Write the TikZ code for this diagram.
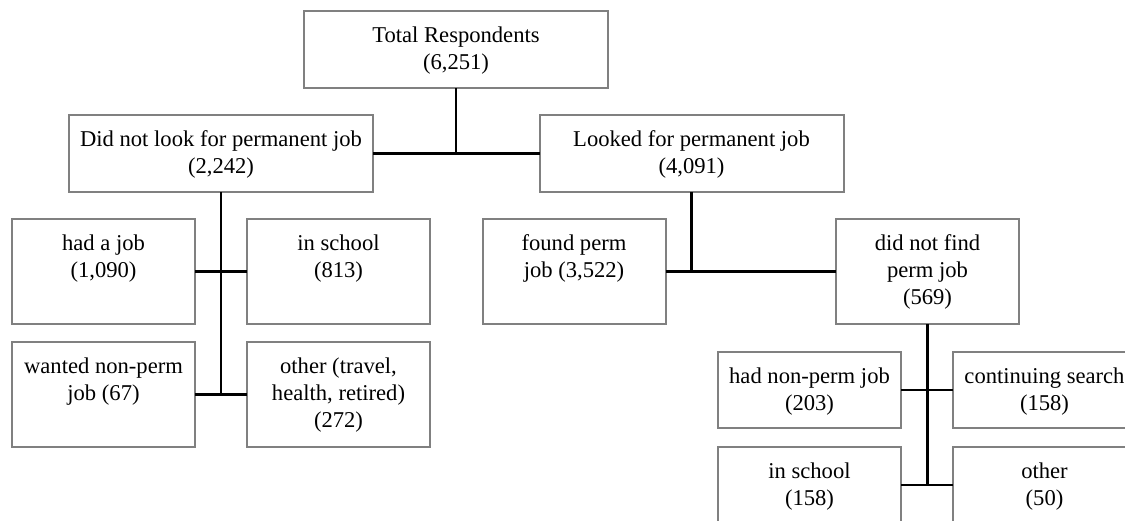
\documentclass[tikz,border=0pt]{standalone}
\usepackage{fontspec}
\setmainfont{Liberation Serif}

\begin{document}
\begin{tikzpicture}[x=0.5pt, y=-0.5pt,
	cell/.style={draw=black!50, line width=1pt, inner sep=0pt, outer sep=0pt},
	wide/.style={cell, minimum width=152pt, minimum height=38.5pt},
	tall/.style={cell, minimum width=91.5pt, minimum height=52.5pt},
	flat/.style={cell, minimum width=91.5pt, minimum height=38pt},
	txt/.style={anchor=north, align=center, inner sep=0pt, yshift=-7.5pt, font=\fontsize{11.3}{13.6}\selectfont},
	link/.style={line width=1.1pt}]
				\fill[white] (0,0) rectangle (1125,520);
				\useasboundingbox (0,0) rectangle (1125,520);
				
				% top levels
				\node[wide, label={[txt]north:{Total Respondents\\(6,251)}}] (total) at (456,49.5) {};
				\node[wide, label={[txt]north:{Did not look for permanent job\\(2,242)}}] (notlook) at (221,153.5) {};
				\node[wide, label={[txt]north:{Looked for permanent job\\(4,091)}}] (looked) at (691.5,153.5) {};
				
				% did not look
				\node[tall, label={[txt]north:{had a job\\(1,090)}}] (hadjob) at (103.5,271.5) {};
				\node[tall, label={[txt]north:{in school\\(813)}}] (school) at (338.5,271.5) {};
				\node[tall, label={[txt]north:{wanted non-perm\\job (67)}}] (wanted) at (103.5,394.5) {};
				\node[tall, label={[txt]north:{other (travel,\\health, retired)\\(272)}}] (other) at (338.5,394.5) {};
				
				% looked
				\node[tall, label={[txt]north:{found perm\\job (3,522)}}] (found) at (574,271.5) {};
				\node[tall, label={[txt]north:{did not find\\perm job\\(569)}}] (notfound) at (927.5,271.5) {};
				\node[flat, label={[txt]north:{had non-perm job\\(203)}}] (nonperm) at (809.5,390) {};
				\node[flat, label={[txt]north:{continuing search\\(158)}}] (search) at (1044.5,390) {};
				\node[flat, label={[txt]north:{in school\\(158)}}] (school2) at (809.5,485) {};
				\node[flat, label={[txt]north:{other\\(50)}}] (other2) at (1044.5,485) {};
				
				\draw[link] (total.south) -- (total.south |- notlook.east);
				\draw[link] (notlook.east) -- (looked.west);
				
				\draw[link] (notlook.south) -- (notlook.south |- other.west);
				\draw[link] (hadjob.east) -- (school.west);
				\draw[link] (wanted.east) -- (other.west);
				
				\draw[link] (looked.south) -- (looked.south |- found.east);
				\draw[link] (found.east) -- (notfound.west);
				
				\draw[link] (notfound.south) -- (notfound.south |- other2.west);
				\draw[link] (nonperm.east) -- (search.west);
				\draw[link] (school2.east) -- (other2.west);
			\end{tikzpicture}
\end{document}
